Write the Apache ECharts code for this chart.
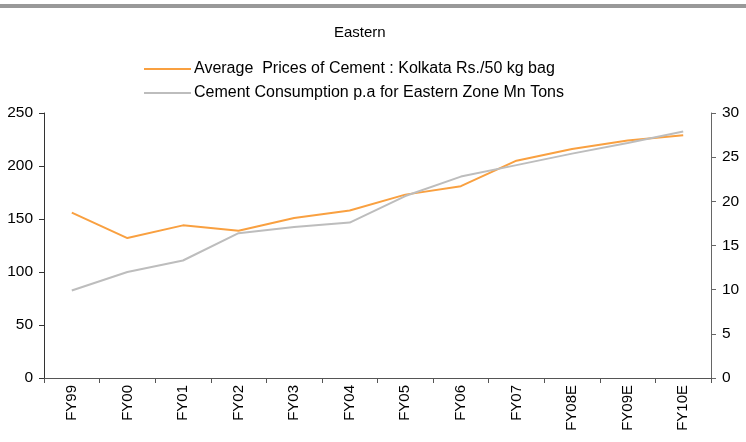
<!DOCTYPE html>
<html>
<head>
<meta charset="utf-8">
<script src="https://cdn.jsdelivr.net/npm/echarts@6/dist/echarts.min.js"></script>
<style>
  html, body { margin: 0; padding: 0; background: #fff; }
  #chart { width: 746px; height: 442px; }
</style>
</head>
<body>
<div id="chart"></div>
<script>
const years = ["FY99", "FY00", "FY01", "FY02", "FY03", "FY04", "FY05", "FY06", "FY07", "FY08E", "FY09E", "FY10E"];
// Rs./50 kg bag, left axis
const cementPrice = [156, 132, 144, 139, 151, 158, 173, 181, 205, 216, 224, 229];
// Mn Tons, right axis
const consumption = [9.9, 12.0, 13.3, 16.4, 17.1, 17.6, 20.6, 22.8, 24.1, 25.4, 26.6, 27.9];

const priceName = "Average  Prices of Cement : Kolkata Rs./50 kg bag";
const consName = "Cement Consumption p.a for Eastern Zone Mn Tons";

const font = "'Liberation Sans', Arial, sans-serif";
const chart = echarts.init(document.getElementById("chart"));

chart.setOption({
    animation: false,
    textStyle: { fontFamily: font },
    graphic: [
        { type: "rect", shape: { x: 0, y: 4, width: 746, height: 4 }, style: { fill: "#999999" } }
    ],
    title: {
        text: "Eastern",
        left: 329,
        top: 20,
        textStyle: { fontSize: 15, fontWeight: "normal", color: "#000", fontFamily: font }
    },
    legend: {
        orient: "vertical",
        left: 139,
        top: 56,
        itemWidth: 47,
        itemHeight: 2,
        itemGap: 8,
        icon: "rect",
        textStyle: { fontSize: 16, color: "#000", padding: [0, 0, 0, -2] },
        data: [priceName, consName]
    },
    grid: { left: 44, right: 35, top: 113, bottom: 64 },
    xAxis: {
        type: "category",
        data: years,
        boundaryGap: true,
        axisLine: { lineStyle: { color: "#555", width: 1 } },
        axisTick: { show: true, length: 5, lineStyle: { color: "#555" } },
        axisLabel: { rotate: 90, fontSize: 15, color: "#000", margin: 7 }
    },
    yAxis: [
        {
            type: "value",
            min: 0, max: 250, interval: 50,
            splitLine: { show: false },
            axisLine: { show: true, lineStyle: { color: "#333" } },
            axisTick: { show: true, length: 5, lineStyle: { color: "#333" } },
            axisLabel: { fontSize: 15.5, color: "#000", margin: 11 }
        },
        {
            type: "value",
            position: "right",
            min: 0, max: 30, interval: 5,
            splitLine: { show: false },
            axisLine: { show: true, lineStyle: { color: "#666" } },
            axisTick: { show: true, length: 5, lineStyle: { color: "#666" } },
            axisLabel: { fontSize: 15.5, color: "#000", margin: 11 }
        }
    ],
    series: [
        {
            name: priceName,
            type: "line",
            yAxisIndex: 0,
            data: cementPrice,
            symbol: "none",
            color: "#F9A040",
            lineStyle: { width: 2, color: "#F9A040" }
        },
        {
            name: consName,
            type: "line",
            yAxisIndex: 1,
            data: consumption,
            symbol: "none",
            color: "#BDBDBD",
            lineStyle: { width: 2, color: "#BDBDBD" }
        }
    ]
});
</script>
</body>
</html>
